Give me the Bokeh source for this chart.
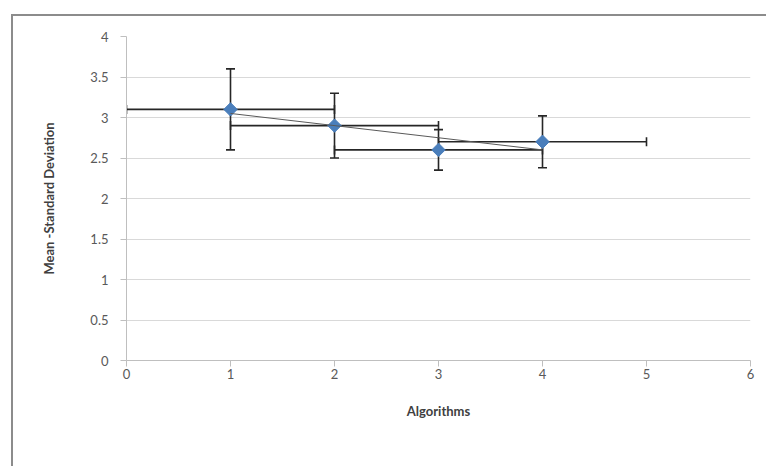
import numpy as np
from bokeh.plotting import figure
from bokeh.models import (ColumnDataSource, Whisker, TeeHead, FixedTicker, Range1d)
from bokeh.embed import file_html
from bokeh.resources import INLINE

# ---- data ----
algorithms = [1, 2, 3, 4]
mean_sd = [3.1, 2.9, 2.6, 2.7]
y_err = [0.5, 0.4, 0.25, 0.32]
x_err = [1, 1, 1, 1]
x_ticks = [0, 1, 2, 3, 4, 5, 6]
y_ticks = [0, 0.5, 1, 1.5, 2, 2.5, 3, 3.5, 4]

x = np.array(algorithms, dtype=float)
y = np.array(mean_sd, dtype=float)
ye = np.array(y_err, dtype=float)
xe = np.array(x_err, dtype=float)

src = ColumnDataSource(dict(
    x=x, y=y,
    y_lo=y - ye, y_hi=y + ye,
    x_lo=x - xe, x_hi=x + xe,
))

# linear trendline (least squares, as in the original chart)
slope, intercept = np.polyfit(x, y, 1)
trend_x = [x.min(), x.max()]
trend_y = [slope * v + intercept for v in trend_x]

FONT = "Lato"

p = figure(width=755, height=452, output_backend="svg", toolbar_location=None,
           x_range=Range1d(0, 6), y_range=Range1d(0, 4),
           min_border_left=113, min_border_right=18,
           min_border_top=20, min_border_bottom=108)
p.outline_line_color = None
p.background_fill_color = "white"
p.border_fill_color = "white"
# outer chart box, like the spreadsheet chart frame
p.styles = {"margin-left": "11px", "margin-top": "14px",
            "border-left": "2px solid #8C8C8C", "border-top": "2px solid #8C8C8C"}

# grid
p.xgrid.grid_line_color = None
p.ygrid.grid_line_color = "#D9D9D9"
p.ygrid.grid_line_width = 1

# axes
p.xaxis.ticker = FixedTicker(ticks=x_ticks)
p.yaxis.ticker = FixedTicker(ticks=y_ticks)
for ax in (p.xaxis, p.yaxis):
    ax.axis_line_color = "#BFBFBF"
    ax.major_tick_line_color = "#BFBFBF"
    ax.major_tick_out = 6
    ax.major_tick_in = 0
    ax.minor_tick_line_color = None
    ax.major_label_text_font = FONT
    ax.major_label_text_font_size = "13px"
    ax.major_label_text_color = "#595959"
    ax.axis_label_text_font = FONT
    ax.axis_label_text_font_size = "13px"
    ax.axis_label_text_font_style = "bold"
    ax.axis_label_text_color = "#404040"

p.xaxis.axis_label = "Algorithms"
p.yaxis.axis_label = "Mean -Standard Deviation"
p.xaxis.major_label_standoff = 2
p.xaxis.axis_label_standoff = 21
p.yaxis.major_label_standoff = 12
p.yaxis.axis_label_standoff = 30

# error bars
vw = Whisker(source=src, base="x", upper="y_hi", lower="y_lo", dimension="height",
             line_color="#262626", line_width=1.6,
             upper_head=TeeHead(size=9, line_color="#262626", line_width=1.6),
             lower_head=TeeHead(size=9, line_color="#262626", line_width=1.6))
hw = Whisker(source=src, base="y", upper="x_hi", lower="x_lo", dimension="width",
             line_color="#262626", line_width=1.6,
             upper_head=TeeHead(size=9, line_color="#262626", line_width=1.6),
             lower_head=TeeHead(size=9, line_color="#262626", line_width=1.6))
p.add_layout(hw)
p.add_layout(vw)

# markers (Excel-style diamond: rotated square)
p.scatter("x", "y", source=src, marker="square", angle=np.pi / 4, size=9.5,
          fill_color="#4A7EBB", line_color="#4A7EBB")

# trendline
p.line(trend_x, trend_y, line_color="#595959", line_width=1)

open("out.html", "w").write(file_html(p, INLINE))
